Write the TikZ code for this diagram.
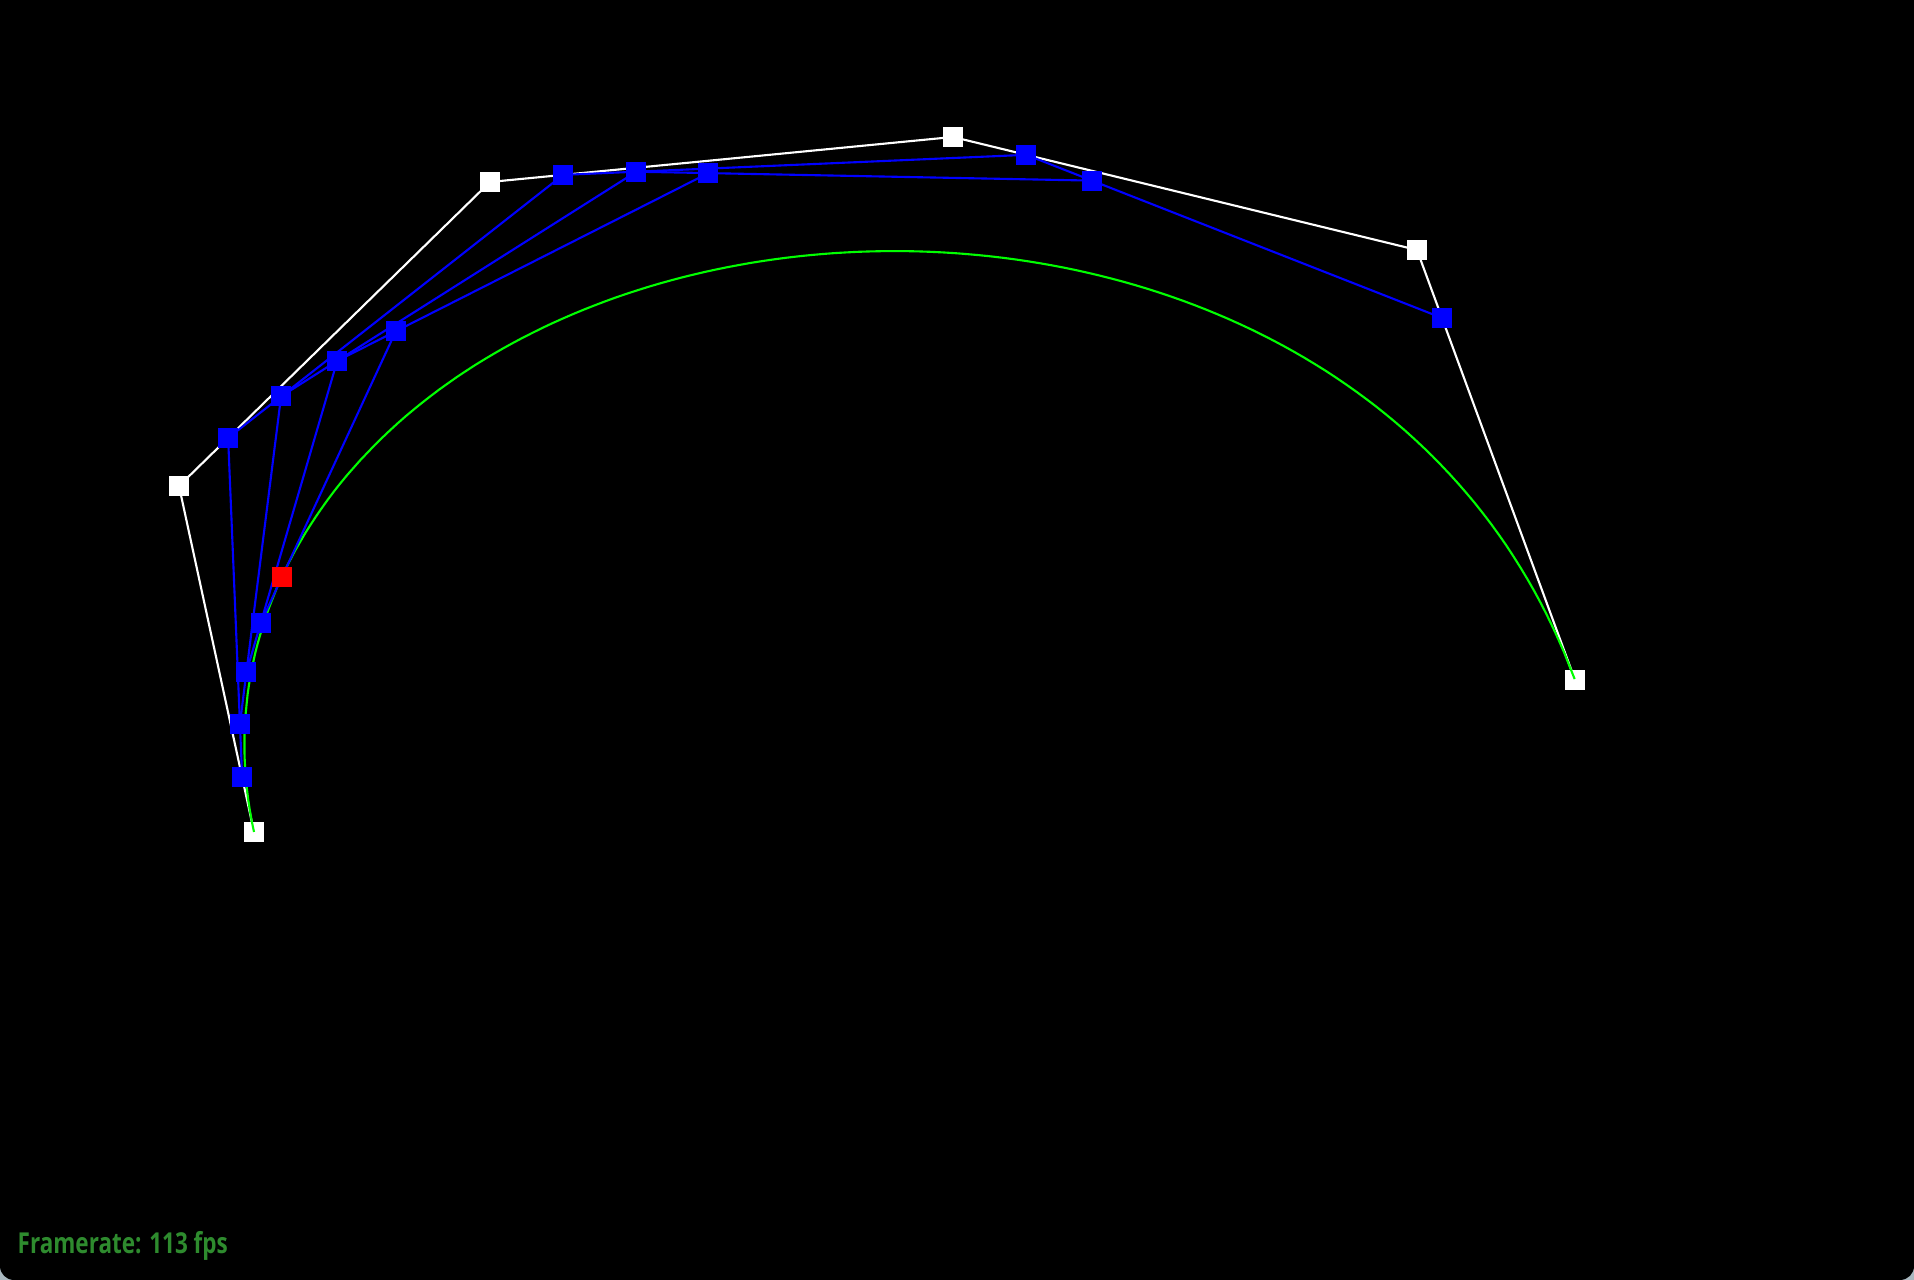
\documentclass[tikz,border=0pt]{standalone}
\usepackage{fontspec}
\newfontfamily\fpsfont[FakeStretch=0.78]{Open Sans}
\usetikzlibrary{calc}
\definecolor{fpsgreen}{HTML}{2E8B2E}
\definecolor{winedge}{HTML}{A9B8C0}
\definecolor{curvegreen}{HTML}{00FF00}
\definecolor{stepblue}{HTML}{0000FF}
\newcommand{\tpar}{0.158}

\begin{document}
\begin{tikzpicture}[
  x=0.01cm,y=-0.01cm,
  ctrl/.style={fill=white,minimum size=0.2cm,inner sep=0pt},
  mid/.style={fill=stepblue,minimum size=0.2cm,inner sep=0pt},
  hit/.style={fill=red,minimum size=0.2cm,inner sep=0pt},
  hull/.style={draw=white,line width=0.6pt},
  lerp/.style={draw=stepblue,line width=0.6pt},
  curve/.style={draw=curvegreen,line width=0.6pt},
  declare function={bez(\s,\a,\b,\c,\d,\e,\f)=(1-\s)^5*\a+5*\s*(1-\s)^4*\b+10*\s^2*(1-\s)^3*\c+10*\s^3*(1-\s)^2*\d+5*\s^4*(1-\s)*\e+\s^5*\f;}
]
\useasboundingbox (0,0) rectangle (1914,1280);
\fill[winedge] (0,0) rectangle (1914,1280);
\fill[black,rounded corners=0.14cm] (0,0) rectangle (1914,1280);
\fill[black] (0,0) rectangle (1914,640);

% control points
\coordinate (p0) at (254,832);
\coordinate (p1) at (179,486);
\coordinate (p2) at (490,182);
\coordinate (p3) at (953,137);
\coordinate (p4) at (1417,250);
\coordinate (p5) at (1575,680);

% de Casteljau levels
\foreach \i/\j in {0/1,1/2,2/3,3/4,4/5} \coordinate (q\i) at ($(p\i)!\tpar!(p\j)$);
\foreach \i/\j in {0/1,1/2,2/3,3/4} \coordinate (r\i) at ($(q\i)!\tpar!(q\j)$);
\foreach \i/\j in {0/1,1/2,2/3} \coordinate (s\i) at ($(r\i)!\tpar!(r\j)$);
\foreach \i/\j in {0/1,1/2} \coordinate (u\i) at ($(s\i)!\tpar!(s\j)$);
\coordinate (hitpt) at ($(u0)!\tpar!(u1)$);

\draw[hull] (p0) -- (p1) -- (p2) -- (p3) -- (p4) -- (p5);
\foreach \i in {0,...,5} \node[ctrl] (cp\i) at (p\i) {};

\draw[curve] plot[domain=0:1,samples=160,variable=\s]
  ({bez(\s,254,179,490,953,1417,1575)},{bez(\s,832,486,182,137,250,680)});

\draw[lerp] (q0) -- (q1) -- (q2) -- (q3) -- (q4);
\draw[lerp] (r0) -- (r1) -- (r2) -- (r3);
\draw[lerp] (s0) -- (s1) -- (s2);
\draw[lerp] (u0) -- (u1);
\foreach \n in {q0,q1,q2,q3,q4,r0,r1,r2,r3,s0,s1,s2,u0,u1} \node[mid] (m\n) at (\n) {};
\node[hit] (tpoint) at (hitpt) {};

\node[anchor=base west,inner sep=0pt,text=fpsgreen,font=\fpsfont\bfseries\fontsize{8.2}{9}\selectfont] (fps) at (17,1254) {Framerate: 113 fps};
\end{tikzpicture}
\end{document}
